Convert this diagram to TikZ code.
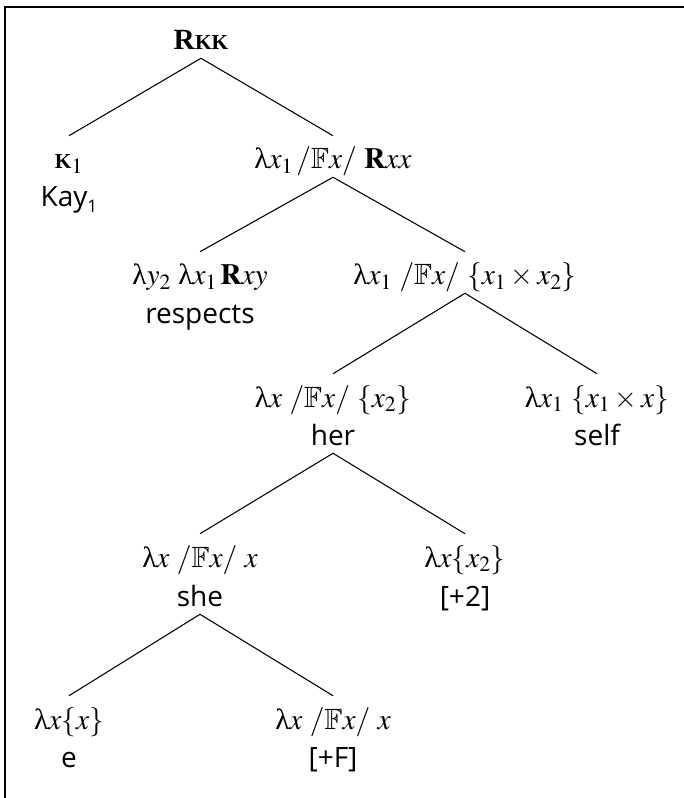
\documentclass[tikz,border=0pt]{standalone}
\usepackage{amssymb}
\usepackage{mathptmx}
\usepackage{fontspec}
\setmainfont{Liberation Serif}
\setsansfont{Open Sans}
\newcommand{\uplam}{\mbox{\rmfamily\upshape λ}}
\begin{document}
\begin{tikzpicture}[x=0.75pt,y=-0.75pt,
  lab/.style={anchor=base,inner sep=0pt,text height=24.75pt,text depth=6pt,font=\fontsize{22}{26}\selectfont},
  wrd/.style={anchor=base,inner sep=0pt,text height=24.75pt,text depth=6pt,font=\sffamily\fontsize{21}{25}\selectfont},
  branch/.style={line width=0.8pt}]
\useasboundingbox (0,0) rectangle (684,798);
\draw[line width=1.6pt] (5,798) -- (5,7) -- (684,7);
% nodes
\node[lab] (root) at (201,50) {\textbf{R}{\fontsize{16}{16}\selectfont\bfseries KK}};
\node[lab] (k1) at (69,169) {{\fontsize{16}{16}\selectfont\bfseries K}$_1$};
\node[wrd] (kay) at (69,207) {Kay\raisebox{-4pt}{\fontsize{13}{13}\selectfont 1}};
\node[lab] (n1) at (333,169) {$\uplam x_1\,/\mathbb{F}x/\ \mathbf{R}xx$};
\node[lab] (n2) at (200,285) {$\uplam y_2\ \uplam x_1\,\mathbf{R}xy$};
\node[wrd] (respects) at (200,323) {respects};
\node[lab] (n3) at (465,285) {$\uplam x_1\ /\mathbb{F}x/\ \{x_1\times x_2\}$};
\node[lab] (n4) at (333,407) {$\uplam x\ /\mathbb{F}x/\ \{x_2\}$};
\node[wrd] (her) at (333,445) {her};
\node[lab] (n5) at (597,407) {$\uplam x_1\ \{x_1\times x\}$};
\node[wrd] (self) at (597,445) {self};
\node[lab] (n6) at (200,567) {$\uplam x\ /\mathbb{F}x/\ x$};
\node[wrd] (she) at (200,606) {she};
\node[lab] (n7) at (465,567) {$\uplam x\{x_2\}$};
\node[wrd] (plus2) at (465,606) {[+2]};
\node[lab] (n8) at (69,729) {$\uplam x\{x\}$};
\node[wrd] (e) at (69,767) {e};
\node[lab] (n9) at (333,729) {$\uplam x\ /\mathbb{F}x/\ x$};
\node[wrd] (plusF) at (333,767) {[+F]};
% connectors
\draw[branch] (k1.north) -- (root.south) -- (n1.north);
\draw[branch] (n2.north) -- (n1.south) -- (n3.north);
\draw[branch] (n4.north) -- (n3.south) -- (n5.north);
\draw[branch] (n6.north) -- (her.south) -- (n7.north);
\draw[branch] (n8.north) -- (she.south) -- (n9.north);
\end{tikzpicture}
\end{document}
